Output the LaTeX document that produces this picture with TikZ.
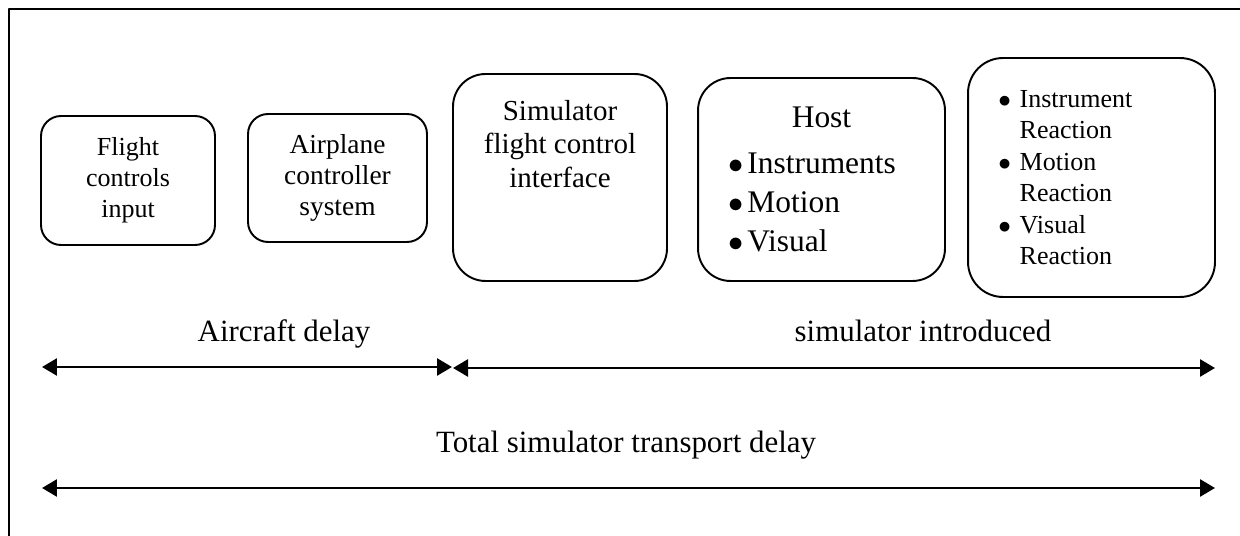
\documentclass[tikz,border=0pt]{standalone}
\usepackage{fontspec}
\setmainfont{Liberation Serif}
\usetikzlibrary{arrows.meta}
\newcommand{\fsz}[2]{\fontsize{#1}{#2}\selectfont}
\newcommand{\bul}[1]{\hspace{-.06em}$\bullet$\hspace{#1}}

\begin{document}
\begin{tikzpicture}[x=.02cm,y=-.02cm,>={Triangle[length=.3cm,width=.34cm]},line join=round,
	box/.style={draw,line width=1.1pt,inner sep=0pt,align=center},
	span/.style={<->,line width=1.5pt},
	lbl/.style={anchor=base,inner sep=0pt,font=\fsz{17.6pt}{21pt}}]
	\useasboundingbox (0,0) rectangle (1240,536);
	\clip (0,0) rectangle (1240,536);
	\draw[line width=1.1pt] (9,9) rectangle (1300,600);
	% blocks
	\node[box,rounded corners=.4cm,minimum width=3.48cm,minimum height=2.58cm,font=\fsz{14.8pt}{17.6pt}] (fci) at (128,180.5) {Flight\\controls\\input};
	\node[box,rounded corners=.4cm,minimum width=3.58cm,minimum height=2.56cm,font=\fsz{15.6pt}{17.6pt}] (acs) at (337.5,178) {Airplane\\controller\\system};
	\node[box,rounded corners=.65cm,minimum width=4.28cm,minimum height=4.14cm] (sfc) at (560,177.5) {};
	\node[inner sep=0pt,anchor=north,align=center,font=\fsz{16.5pt}{19pt}] (sfctxt) at (560,100) {Simulator\\flight control\\interface};
	\node[box,rounded corners=.65cm,minimum width=4.94cm,minimum height=4.06cm,align=left,text width=3.66cm,inner xsep=.64cm,font=\fsz{17.9pt}{22.2pt}] (host) at (821.5,179.5)
		{\makebox[\linewidth]{Host}\\[4pt]\bul{.13em}Instruments\\\bul{.13em}Motion\\\bul{.13em}Visual};
	\node[box,rounded corners=.7cm,minimum width=4.94cm,minimum height=4.78cm,align=left,text width=3.66cm,inner xsep=.64cm,font=\fsz{14.8pt}{17.9pt}] (react) at (1091.5,177.5)
		{\bul{.33em}Instrument\\\phantom{\bul{.33em}}Reaction\\\bul{.33em}Motion\\\phantom{\bul{.33em}}Reaction\\\bul{.33em}Visual\\\phantom{\bul{.33em}}Reaction};
	% delays
	\coordinate (a1) at (42,367);
	\coordinate (a2) at (452,367);
	\coordinate (s1) at (453,368);
	\coordinate (s2) at (1215,368);
	\coordinate (t1) at (42,488);
	\coordinate (t2) at (1215,488);
	\draw[span] (a1)--(a2);
	\draw[span] (s1)--(s2);
	\draw[span] (t1)--(t2);
	\node[lbl] (acd) at (284,342) {Aircraft delay};
	\node[lbl] (sin) at (923,342) {simulator introduced};
	\node[lbl] (tot) at (626,453) {Total simulator transport delay};
\end{tikzpicture}
\end{document}
